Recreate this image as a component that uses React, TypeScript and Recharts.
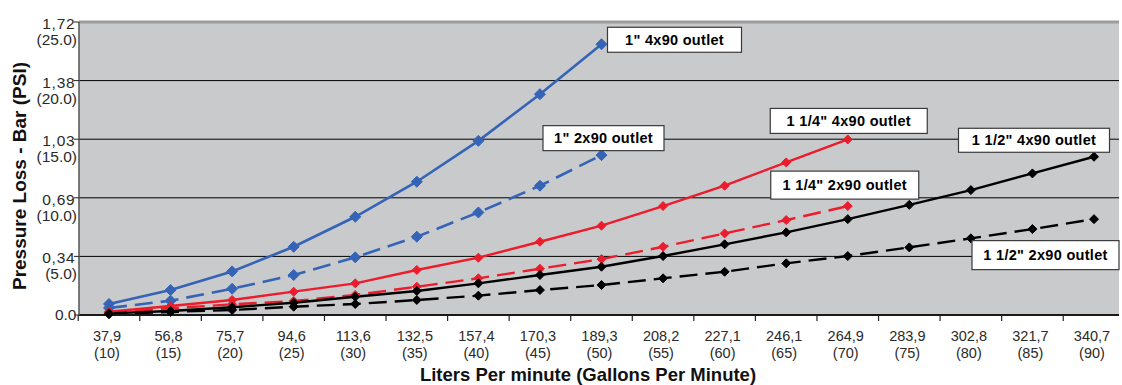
import React from 'react';
import { LineChart, Line, XAxis, YAxis, CartesianGrid, ReferenceLine } from 'recharts';

// Category labels (liters per minute / gallons per minute)
const litersLabels = ['37,9', '56,8', '75,7', '94,6', '113,6', '132,5', '157,4', '170,3', '189,3', '208,2', '227,1', '246,1', '264,9', '283,9', '302,8', '321,7', '340,7'];
const gpmLabels = ['(10)', '(15)', '(20)', '(25)', '(30)', '(35)', '(40)', '(45)', '(50)', '(55)', '(60)', '(65)', '(70)', '(75)', '(80)', '(85)', '(90)'];

// Y ticks (PSI) with bar / psi labels
const yTickValues = [0, 5, 10, 15, 20, 25];
const yBarLabels = ['0.0', '0,34', '0,69', '1,03', '1,38', '1,72'];
const yPsiLabels = ['', '(5.0)', '(10.0)', '(15.0)', '(20.0)', '(25.0)'];

// Series values (PSI)
const oneInch4x90 = [0.94, 2.13, 3.72, 5.82, 8.38, 11.37, 14.86, 18.84, 23.1];
const oneInch2x90 = [0.6, 1.22, 2.24, 3.41, 4.92, 6.68, 8.75, 11.03, 13.64];
const oneQuarter4x90 = [0.28, 0.77, 1.28, 1.99, 2.7, 3.84, 4.89, 6.25, 7.62, 9.29, 11.03, 13.02, 14.98];
const oneQuarter2x90 = [0.2, 0.57, 0.91, 1.19, 1.71, 2.41, 3.13, 3.95, 4.77, 5.82, 6.96, 8.1, 9.29];
const oneHalf4x90 = [0.14, 0.34, 0.66, 1.05, 1.56, 2.05, 2.7, 3.41, 4.12, 5.03, 6.03, 7.05, 8.18, 9.4, 10.66, 12.08, 13.5];
const oneHalf2x90 = [0.06, 0.26, 0.43, 0.71, 0.94, 1.28, 1.65, 2.13, 2.56, 3.13, 3.69, 4.41, 5.03, 5.77, 6.54, 7.33, 8.18];

const seriesNames = ['1" 4x90 outlet', '1" 2x90 outlet', '1 1/4" 4x90 outlet', '1 1/4" 2x90 outlet', '1 1/2" 4x90 outlet', '1 1/2" 2x90 outlet'];

const data = litersLabels.map((cat, i) => ({
  cat,
  s1: oneInch4x90[i] ?? null,
  s2: oneInch2x90[i] ?? null,
  s3: oneQuarter4x90[i] ?? null,
  s4: oneQuarter2x90[i] ?? null,
  s5: oneHalf4x90[i] ?? null,
  s6: oneHalf2x90[i] ?? null,
}));

const FONT = '"Liberation Sans", Arial, sans-serif';
const BLUE = '#3564b6';
const RED = '#ec1c2c';
const BLACK = '#000000';
const PAD_L = 30;
const PAD_R = 25;

const XTick = (props: any) => {
  const { x, y, payload, index, width } = props;
  const n = litersLabels.length;
  const step = typeof width === 'number' ? (width - PAD_L - PAD_R) / (n - 1) : 61.56;
  const i = typeof payload?.index === 'number' ? payload.index : index;
  return (
    <g>
      <line x1={x - step / 2} x2={x - step / 2} y1={y} y2={y + 6} stroke="#222" strokeWidth={1.2} />
      <text x={x - 2} y={y + 26} textAnchor="middle" fontSize={14.5} fontFamily={FONT} fill="#2a2a2a">{litersLabels[i]}</text>
      <text x={x - 2} y={y + 43} textAnchor="middle" fontSize={14.5} fontFamily={FONT} fill="#2a2a2a">{gpmLabels[i]}</text>
    </g>
  );
};

const YTick = (props: any) => {
  const { x, y, payload } = props;
  const i = yTickValues.indexOf(payload.value);
  return (
    <g>
      <line x1={x - 5} x2={x} y1={y} y2={y} stroke="#222" strokeWidth={1} />
      {i === 0 ? (
        <text x={x - 2.5} y={y + 5} textAnchor="end" fontSize={15.5} fontFamily={FONT} fill="#2a2a2a">{yBarLabels[i]}</text>
      ) : (
        <g>
          <text x={x - 3.5} y={y + 7} textAnchor="end" fontSize={15.5} fontFamily={FONT} fill="#2a2a2a" letterSpacing={0.8}>{yBarLabels[i]}</text>
          <text x={x - 2} y={y + 23} textAnchor="end" fontSize={15.5} fontFamily={FONT} fill="#2a2a2a">{yPsiLabels[i]}</text>
        </g>
      )}
    </g>
  );
};

const YTitle = (props: any) => {
  const vb = props.viewBox ?? { x: 0, y: 22, width: 79, height: 293 };
  const cx = vb.x + 25.5;
  const cy = vb.y + vb.height / 2 + 7.5;
  return (
    <text x={cx} y={cy} transform={`rotate(-90 ${cx} ${cy})`} textAnchor="middle" fontSize={19} fontWeight="bold" fontFamily={FONT} fill="#111">
      Pressure Loss - Bar (PSI)
    </text>
  );
};

const XTitle = (props: any) => {
  const vb = props.viewBox ?? { x: 79, y: 315, width: 1040, height: 70 };
  const cx = vb.x + vb.width / 2 - 11;
  const cy = vb.y + 66;
  return (
    <text x={cx} y={cy} textAnchor="middle" fontSize={18.5} fontWeight="bold" fontFamily={FONT} fill="#111">
      Liters Per minute (Gallons Per Minute)
    </text>
  );
};

const diamond = (color: string, r: number, name: string) => (p: any) => {
  const { cx, cy, index } = p;
  if (cx == null || cy == null || Number.isNaN(cx) || Number.isNaN(cy) || p.value == null) {
    return <g key={`${name}-dot-${index}`} />;
  }
  return (
    <path
      key={`${name}-dot-${index}`}
      d={`M${cx},${cy - r} L${cx + r},${cy} L${cx},${cy + r} L${cx - r},${cy} Z`}
      fill={color}
      stroke={color}
      strokeWidth={1}
    />
  );
};

const boxLabel = (lastIndex: number, text: string, dx: number, dy: number, w: number, h: number) => (p: any) => {
  if (p.index !== lastIndex) return null;
  const px = typeof p.x === 'number' ? p.x : p.viewBox?.x;
  const py = typeof p.y === 'number' ? p.y : p.viewBox?.y;
  if (px == null || py == null) return null;
  return (
    <g>
      <rect x={px + dx} y={py + dy} width={w} height={h} fill="#ffffff" stroke="#3a3a3a" strokeWidth={1.2} />
      <text x={px + dx + w / 2} y={py + dy + h / 2 + 5.2} textAnchor="middle" fontSize={14.5} fontWeight="bold" fontFamily={FONT} fill="#000" letterSpacing={0.3}>
        {text}
      </text>
    </g>
  );
};

export default function App() {
  return (
    <div style={{ position: 'absolute', left: 0, top: 0, width: 1122, height: 385, background: '#fff' }}>
      <LineChart width={1122} height={385} data={data} margin={{ top: 22, right: 3, left: 0, bottom: 0 }} style={{ fontFamily: FONT }}>
        <CartesianGrid vertical={false} horizontal={true} stroke="#000" strokeWidth={1} fill="#c9cacc" />
        <XAxis
          dataKey="cat"
          height={70}
          interval={0}
          padding={{ left: PAD_L, right: PAD_R }}
          tick={<XTick />}
          tickLine={false}
          tickSize={0}
          tickMargin={0}
          axisLine={{ stroke: '#1a1a1a', strokeWidth: 2 }}
          label={(p: any) => <XTitle {...p} />}
        />
        <YAxis
          width={79}
          domain={[0, 25]}
          ticks={yTickValues}
          type="number"
          tick={<YTick />}
          tickLine={false}
          tickSize={0}
          tickMargin={0}
          axisLine={{ stroke: '#555', strokeWidth: 1.5 }}
          label={(p: any) => <YTitle {...p} />}
        />
        <ReferenceLine y={25} stroke="#9c9c9c" strokeWidth={3} />
        <Line dataKey="s1" stroke={BLUE} strokeWidth={2.6} isAnimationActive={false} dot={diamond(BLUE, 5.5, 's1')} activeDot={false} label={boxLabel(8, seriesNames[0], 6, -17, 134, 25)} />
        <Line dataKey="s2" stroke={BLUE} strokeWidth={2.6} strokeDasharray="18 8" isAnimationActive={false} dot={diamond(BLUE, 5.5, 's2')} activeDot={false} label={boxLabel(8, seriesNames[1], -58.5, -29.5, 121, 25)} />
        <Line dataKey="s3" stroke={RED} strokeWidth={2.4} isAnimationActive={false} dot={diamond(RED, 4.5, 's3')} activeDot={false} label={boxLabel(12, seriesNames[2], -77.5, -31, 157, 25)} />
        <Line dataKey="s4" stroke={RED} strokeWidth={2.4} strokeDasharray="18 8" isAnimationActive={false} dot={diamond(RED, 4.5, 's4')} activeDot={false} label={boxLabel(12, seriesNames[3], -77, -35, 148, 28)} />
        <Line dataKey="s5" stroke={BLACK} strokeWidth={2.4} isAnimationActive={false} dot={diamond(BLACK, 4.5, 's5')} activeDot={false} label={boxLabel(16, seriesNames[4], -135.5, -28.5, 151, 24)} />
        <Line dataKey="s6" stroke={BLACK} strokeWidth={2.4} strokeDasharray="18 8" isAnimationActive={false} dot={diamond(BLACK, 4.5, 's6')} activeDot={false} label={boxLabel(16, seriesNames[5], -122, 21.5, 147, 29)} />
      </LineChart>
    </div>
  );
}
